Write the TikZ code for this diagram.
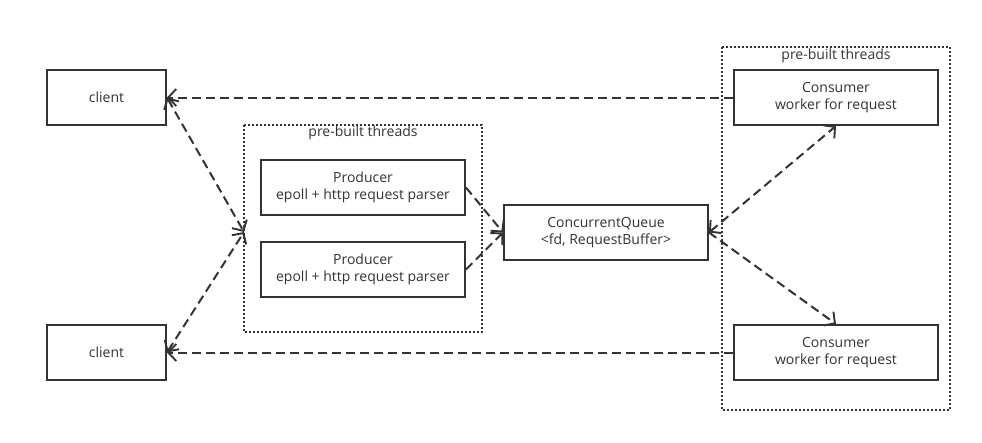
\documentclass[tikz,border=0pt]{standalone}
\usepackage{fontspec}
\setmainfont{Open Sans}
\usetikzlibrary{arrows.meta}
\begin{document}
\begin{tikzpicture}[x=1pt,y=-1pt,
  box/.style={draw=black!80, line width=1.9pt, minimum width=204pt, minimum height=55pt, inner sep=0pt, align=center, font=\fontsize{14}{17}\selectfont, text=black!80},
  cbox/.style={box, minimum width=119pt},
  grp/.style={draw=black!80, line width=1.6pt, dash pattern=on 1.6pt off 2.4pt},
  lbl/.style={font=\fontsize{14}{15}\selectfont, text=black!80},
  conn/.style={draw=black!80, line width=2pt, dash pattern=on 9pt off 5pt},
  >={Straight Barb[length=8pt,width=17pt,line width=1.9pt]}
]
\useasboundingbox (0,0) rectangle (982,442);
% groups
\draw[grp] (244,125) rectangle (482,332);
\node[lbl] (gl) at (363,133) {pre-built threads};
\draw[grp] (722,47) rectangle (950,410);
\node[lbl] (gr) at (836,56) {pre-built threads};
% nodes
\node[cbox] (c1) at (106.5,97.5) {client};
\node[cbox] (c2) at (106.5,352.5) {client};
\node[box] (p1) at (363,187.5) {Producer\\epoll + http request parser};
\node[box] (p2) at (363,269.5) {Producer\\epoll + http request parser};
\node[box] (q) at (606,232.5) {ConcurrentQueue\\<fd, RequestBuffer>};
\node[box] (k1) at (836,97.5) {Consumer\\worker for request};
\node[box] (k2) at (836,352.5) {Consumer\\worker for request};
\coordinate (gw) at (244,232);
% connectors
\draw[conn,->] (k1.west) -- (c1.east);
\draw[conn,->] (k2.west) -- (c2.east);
\draw[conn,<->] (c1.east) -- (gw);
\draw[conn,<->] (c2.east) -- (gw);
\draw[conn,->] (p1.east) -- (q.west);
\draw[conn,->] (p2.east) -- (q.west);
\draw[conn,<->] (q.east) -- (k1.south);
\draw[conn,->] (q.east) -- (k2.north);
\end{tikzpicture}
\end{document}
